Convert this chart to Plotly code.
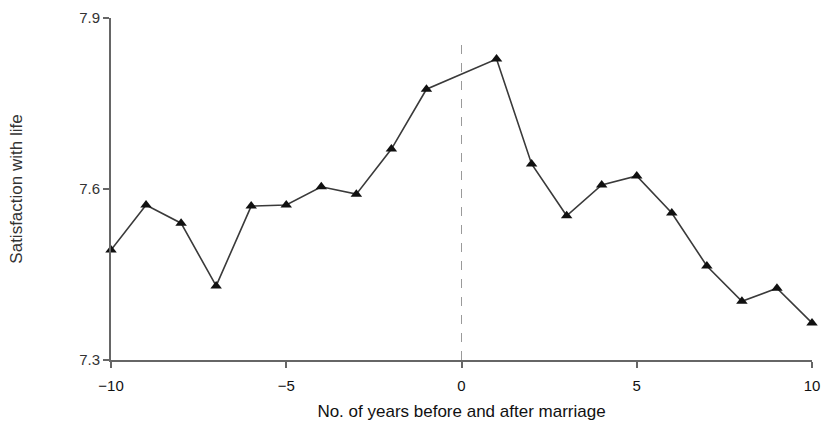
import plotly.graph_objects as go

years = [-10, -9, -8, -7, -6, -5, -4, -3, -2, -1, 1, 2, 3, 4, 5, 6, 7, 8, 9, 10]
satisfaction = [7.493, 7.572, 7.540, 7.430, 7.570, 7.572, 7.604, 7.591, 7.670, 7.775,
                7.828, 7.644, 7.553, 7.607, 7.623, 7.558, 7.465, 7.403, 7.426, 7.365]
x_ticks = [-10, -5, 0, 5, 10]
x_tick_labels = ["\u221210", "\u22125", "0", "5", "10"]
y_ticks = [7.3, 7.6, 7.9]
y_tick_labels = ["7.3", "7.6", "7.9"]
marriage_year = [0, 0]
marriage_span = [7.3, 7.86]

fig = go.Figure()
fig.add_trace(go.Scatter(
    x=marriage_year, y=marriage_span, mode="lines",
    line=dict(color="#9a9a9a", width=1, dash="dash"), hoverinfo="skip", showlegend=False))
fig.add_trace(go.Scatter(
    x=years, y=satisfaction, mode="lines+markers",
    line=dict(color="#3a3a3a", width=1.6),
    marker=dict(symbol="triangle-up", size=10, color="#111111"),
    cliponaxis=False, showlegend=False))

axis_font = dict(family="Liberation Sans, Arial, sans-serif", size=14, color="#111")
fig.update_layout(
    width=827, height=427,
    margin=dict(l=111, r=15, t=18, b=67, autoexpand=False),
    paper_bgcolor="white", plot_bgcolor="white",
    font=axis_font,
    xaxis=dict(range=[-10, 10], tickvals=x_ticks, ticktext=x_tick_labels,
               showgrid=False, zeroline=False, showline=True, linecolor="#666", linewidth=2,
               ticks="outside", ticklen=6, tickcolor="#666", tickwidth=1.5,
               ticklabelstandoff=5, tickfont=dict(size=15),
               title=dict(text="No. of years before and after marriage", standoff=12)),
    yaxis=dict(range=[7.3, 7.9], tickvals=y_ticks, ticktext=y_tick_labels,
               showgrid=False, zeroline=False, showline=True, linecolor="#666", linewidth=2,
               ticks="outside", ticklen=6, tickcolor="#666", tickwidth=1.5,
               tickfont=dict(size=15, color="#333"),
               title=dict(text="Satisfaction with life", standoff=52, font=dict(color="#333"))),
)
fig.write_html("out.html",
               config={"displayModeBar": False},
               post_script="document.body.style.margin='0';document.body.style.overflow='hidden';")
